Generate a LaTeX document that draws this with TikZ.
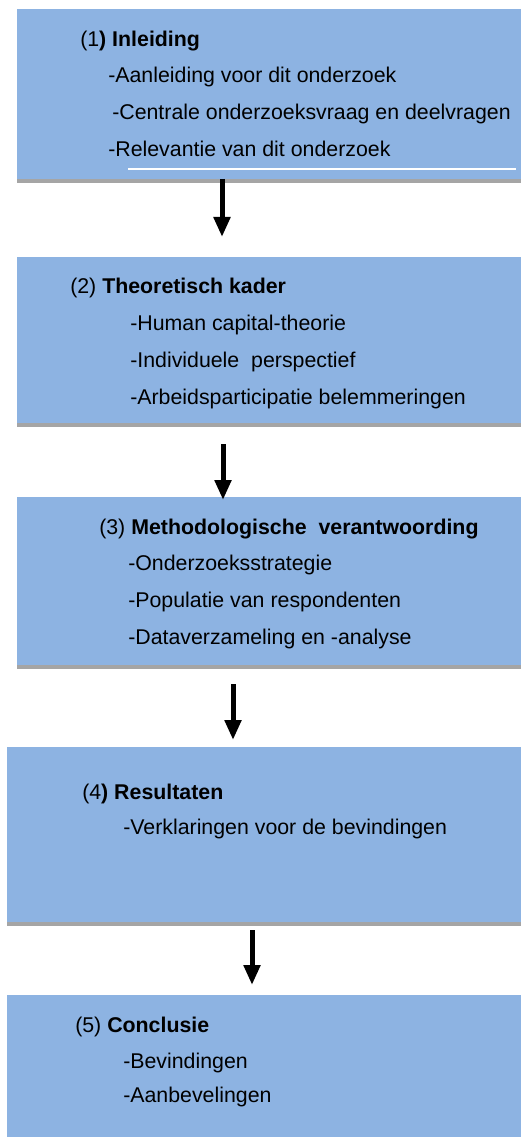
\documentclass[tikz,border=0pt]{standalone}
\usepackage{fontspec}
\setmainfont{Liberation Sans}
\usetikzlibrary{arrows.meta,fit}
\definecolor{vakblauw}{HTML}{8DB3E2}
\definecolor{schaduw}{HTML}{A5A5A5}

\begin{document}
\begin{tikzpicture}[x=0.75pt,y=-0.75pt,
    vak/.style={fill=vakblauw,draw=none,inner sep=0pt,outer sep=0pt},
    kop/.style={anchor=base west,inner sep=0pt,font=\fontsize{16}{19}\selectfont},
    punt/.style={kop},
    pijl/.style={-{Triangle[width=12pt,length=15pt]},line width=3.75pt}]
  \useasboundingbox (0,0) rectangle (521,1137);
  % schaduwranden onder de vakken
  \fill[schaduw] (17,179) rectangle (521,183);
  \fill[schaduw] (17,423) rectangle (521,427);
  \fill[schaduw] (17,665) rectangle (521,669);
  \fill[schaduw] (7,922) rectangle (521,926);
  % vakken
  \node[vak,fit={(17,9) (521,179)}] (inleiding) {};
  \node[vak,fit={(17,257) (521,423)}] (kader) {};
  \node[vak,fit={(17,497) (521,665)}] (methode) {};
  \node[vak,fit={(7,747) (521,922)}] (resultaten) {};
  \node[vak,fit={(7,995) (521,1137)}] (conclusie) {};
  \draw[white,line width=0.8pt] (128,169) -- (516,169);
  % (1)
  \node[kop] (k1) at (80,47) {(1\textbf{) Inleiding}};
  \node[punt] (k1a) at (108,83) {-Aanleiding voor dit onderzoek};
  \node[punt] (k1b) at (112,120) {-Centrale onderzoeksvraag en deelvragen};
  \node[punt] (k1c) at (108,157) {-Relevantie van dit onderzoek};
  % (2)
  \node[kop] (k2) at (70,294) {(2) \textbf{Theoretisch kader}};
  \node[punt] (k2a) at (130,330) {-Human capital-theorie};
  \node[punt] (k2b) at (130,367) {-Individuele\ \ perspectief};
  \node[punt] (k2c) at (130,404) {-Arbeidsparticipatie belemmeringen};
  % (3)
  \node[kop] (k3) at (99,534) {(3) \textbf{Methodologische\ \ verantwoording}};
  \node[punt] (k3a) at (128,570) {-Onderzoeksstrategie};
  \node[punt] (k3b) at (128,607) {-Populatie van respondenten};
  \node[punt] (k3c) at (128,644) {-Dataverzameling en -analyse};
  % (4)
  \node[kop] (k4) at (82,799) {(4\textbf{) Resultaten}};
  \node[punt] (k4a) at (123,834) {-Verklaringen voor de bevindingen};
  % (5)
  \node[kop] (k5) at (75,1032) {(5) \textbf{Conclusie}};
  \node[punt] (k5a) at (123,1068) {-Bevindingen};
  \node[punt] (k5b) at (123,1102) {-Aanbevelingen};
  % pijlen
  \coordinate (p1) at (222,237);
  \coordinate (p2) at (223,500);
  \coordinate (p3) at (233,740);
  \coordinate (p4) at (252,985);
  \draw[pijl] (inleiding.south -| p1) -- (p1);
  \draw[pijl] ([yshift=-15.75pt]kader.south -| p2) -- (p2);
  \draw[pijl] ([yshift=-14.25pt]methode.south -| p3) -- (p3);
  \draw[pijl] ([yshift=-6pt]resultaten.south -| p4) -- (p4);
\end{tikzpicture}
\end{document}
